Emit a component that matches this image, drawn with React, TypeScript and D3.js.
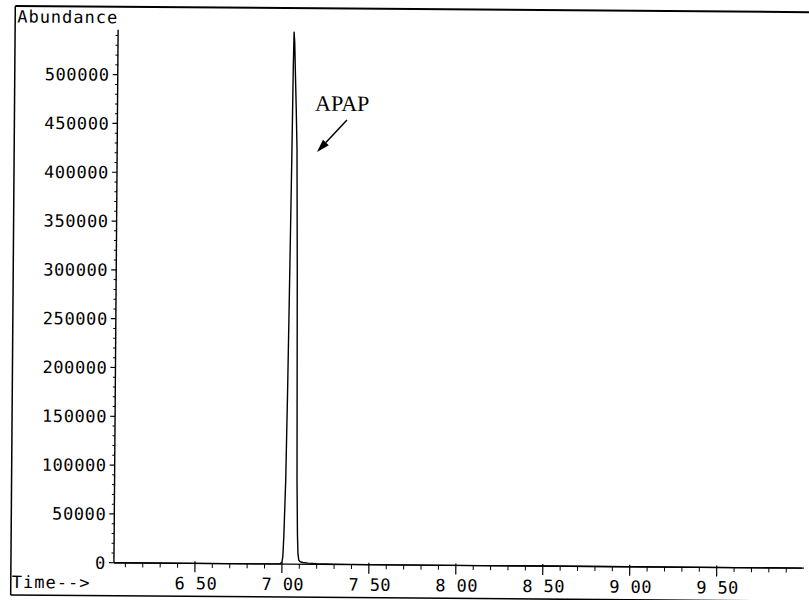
import React from "react";
import * as d3 from "d3";

// Chromatogram data (retention time in minutes, abundance)
const times = [6.034, 6.5, 6.9, 6.99, 7.0, 7.005, 7.01, 7.018, 7.025, 7.032, 7.039, 7.043, 7.046, 7.05, 7.055, 7.062, 7.068, 7.075, 7.083, 7.088, 7.092, 7.097, 7.105, 7.12, 7.15, 7.2, 7.3, 7.5, 8.0, 9.0, 9.99];
const abundance = [0, 0, 0, 300, 2000, 8000, 30000, 86000, 180000, 300000, 425000, 510000, 545000, 535000, 505000, 465000, 425000, 300000, 86000, 30000, 10000, 4000, 2500, 1800, 1200, 700, 300, 150, 0, 0, 0];

// Axis ticks
const yMajorTicks = [0, 50000, 100000, 150000, 200000, 250000, 300000, 350000, 400000, 450000, 500000];
const yMinorStep = 10000;
const xMajorTicks = [6.5, 7.0, 7.5, 8.0, 8.5, 9.0, 9.5];
const xMajorLabels = ["6 50", "7 00", "7 50", "8 00", "8 50", "9 00", "9 50"];
const xMinorStep = 0.1;

// Axis domains
const xDomain = [6.034, 9.99];
const yDomain = [0, 546000];

// Annotation (data units)
const annoLabel = "APAP";
const annoText = { t: 7.17, v: 464600 };
const annoArrowFrom = { t: 7.354, v: 455400 };
const annoArrowTo = { t: 7.183, v: 422400 };

export default function App() {
  const W = 809;
  const H = 600;
  const x = d3.scaleLinear().domain(xDomain).range([116, 804]);
  const y = d3.scaleLinear().domain(yDomain).range([565, 32]);

  const data = times.map((t, i) => ({ t, v: abundance[i] }));
  const line = d3
    .line<{ t: number; v: number }>()
    .x((d) => x(d.t))
    .y((d) => y(d.v));

  const yMinor = d3.range(0, yDomain[1], yMinorStep).filter((v) => v % 50000 !== 0);
  const xMinor = d3
    .range(6.1, 9.95, xMinorStep)
    .map((v) => Math.round(v * 10) / 10)
    .filter((v) => Math.abs(v * 2 - Math.round(v * 2)) > 1e-6);

  const mono = "'DejaVu Sans Mono', 'Liberation Mono', monospace";

  // arrow geometry
  const ax1 = x(annoArrowFrom.t);
  const ay1 = y(annoArrowFrom.v);
  const ax2 = x(annoArrowTo.t);
  const ay2 = y(annoArrowTo.v);
  const ang = Math.atan2(ay2 - ay1, ax2 - ax1);
  const headLen = 13;
  const headW = 4;
  const bx = ax2 - headLen * Math.cos(ang);
  const by = ay2 - headLen * Math.sin(ang);
  const head = [
    [ax2, ay2],
    [bx + headW * Math.sin(ang), by - headW * Math.cos(ang)],
    [bx - headW * Math.sin(ang), by + headW * Math.cos(ang)],
  ]
    .map((p) => p.join(","))
    .join(" ");

  return (
    <div style={{ position: "fixed", left: 0, top: 0, width: W, height: H, overflow: "hidden", background: "#fff" }}>
      <svg width={W} height={H} style={{ display: "block", overflow: "hidden" }}>
        <rect x={0} y={0} width={W} height={H} fill="#fff" />
        <g transform="rotate(0.45 404 300)">
          {/* outer frame */}
          <line x1={13} y1={9} x2={W + 10} y2={9} stroke="#000" strokeWidth={2} />
          <line x1={13} y1={9} x2={13} y2={598} stroke="#000" strokeWidth={1.5} />
          <line x1={13} y1={598} x2={W + 10} y2={598} stroke="#000" strokeWidth={1.5} />

          {/* y axis title */}
          <text x={15} y={25.5} fontFamily={mono} fontSize={17} letterSpacing={1} fill="#000">
            Abundance
          </text>

          {/* y axis */}
          <line x1={116} y1={y(0)} x2={116} y2={y(yDomain[1])} stroke="#000" strokeWidth={1.4} />
          {yMinor.map((v) => (
            <line key={"ym" + v} x1={113.5} x2={116} y1={y(v)} y2={y(v)} stroke="#000" strokeWidth={1} />
          ))}
          {yMajorTicks.map((v) => (
            <g key={"yM" + v}>
              <line x1={111} x2={116} y1={y(v)} y2={y(v)} stroke="#000" strokeWidth={1.2} />
              <text
                x={108}
                y={y(v)}
                dy="0.36em"
                textAnchor="end"
                fontFamily={mono}
                fontSize={17}
                letterSpacing={0.6}
                fill="#000"
              >
                {v}
              </text>
            </g>
          ))}

          {/* x axis */}
          <line x1={116} y1={y(0)} x2={806} y2={y(0)} stroke="#000" strokeWidth={1.4} />
          {xMinor.map((t) => (
            <line key={"xm" + t} x1={x(t)} x2={x(t)} y1={y(0)} y2={y(0) + 4.5} stroke="#000" strokeWidth={1} />
          ))}
          {xMajorTicks.map((t, i) => (
            <g key={"xM" + t}>
              <line x1={x(t)} x2={x(t)} y1={y(0) - 2} y2={y(0) + 9} stroke="#000" strokeWidth={1.2} />
              <text
                x={x(t) + 1}
                y={591}
                textAnchor="middle"
                fontFamily={mono}
                fontSize={17}
                letterSpacing={0.4}
                fill="#000"
              >
                {xMajorLabels[i]}
              </text>
            </g>
          ))}
          <text x={14} y={591} fontFamily={mono} fontSize={17} letterSpacing={1} fill="#000">
            Time--&gt;
          </text>

          {/* chromatogram trace */}
          <path d={line(data) || ""} fill="none" stroke="#000" strokeWidth={1.4} strokeLinejoin="round" />

          {/* annotation */}
          <text
            x={x(annoText.t)}
            y={y(annoText.v)}
            fontFamily="'Liberation Serif', 'Times New Roman', serif"
            fontSize={22}
            fill="#000"
          >
            {annoLabel}
          </text>
          <line x1={ax1} y1={ay1} x2={bx} y2={by} stroke="#000" strokeWidth={1.5} />
          <polygon points={head} fill="#000" />
        </g>
      </svg>
    </div>
  );
}
